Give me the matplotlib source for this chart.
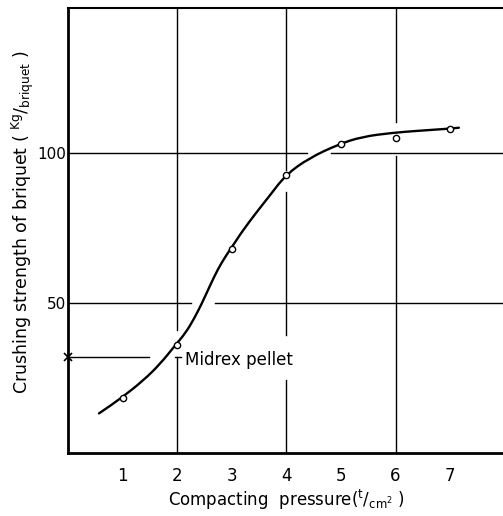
import matplotlib
matplotlib.use('Agg')
import matplotlib.pyplot as plt
from matplotlib.path import Path
from matplotlib.patches import PathPatch

# measured points (compacting pressure t/cm2, crushing strength kg/briquet)
pressure = [1, 2, 3, 4, 5, 6, 7]
strength = [18.3, 36.1, 68.1, 92.8, 103.0, 105.2, 108.1]

# hand drawn curve
curve_x = [0.57, 0.97, 1.39, 1.70, 1.97, 2.15, 2.30, 2.45, 2.60, 2.75, 2.90,
           3.05, 3.19, 3.44, 3.68, 3.99, 4.41, 4.96, 5.39, 5.94, 6.43, 6.92, 7.16]
curve_y = [13.3, 18.3, 24.4, 30.0, 36.1, 40.0, 44.5, 49.8, 55.8, 61.5, 66.0,
           70.0, 73.9, 80.0, 85.5, 92.8, 98.3, 103.0, 105.5, 106.8, 107.5, 108.1, 108.5]

midrex = 32
x_ticks = [1, 2, 3, 4, 5, 6, 7]
y_ticks = [50, 100]

# grid lines are broken where the drawing leaves gaps
h_grid = {100: [(0, 4.38), (4.81, 8)], 50: [(0, 2.25), (2.70, 8)]}
v_grid = {2: [(0, 32.2), (41.1, 148.4)],
          4: [(0, 24.4), (39.4, 87.2), (94.5, 148.4)],
          6: [(0, 99.0), (110.4, 148.4)]}


def smooth_path(xs, ys):
    '''quadratic bezier through the midpoints of the traced points'''
    pts = list(zip(xs, ys))
    verts = [pts[0]]
    codes = [Path.MOVETO]
    mids = [((pts[i][0] + pts[i + 1][0]) / 2, (pts[i][1] + pts[i + 1][1]) / 2)
            for i in range(len(pts) - 1)]
    verts.append(mids[0])
    codes.append(Path.LINETO)
    for i in range(1, len(pts) - 1):
        verts += [pts[i], mids[i]]
        codes += [Path.CURVE3, Path.CURVE3]
    verts.append(pts[-1])
    codes.append(Path.LINETO)
    return Path(verts, codes)


fig = plt.figure(figsize=(5.03, 5.16), dpi=100)
ax = fig.add_axes([0.135, 0.1215, 0.8684, 0.863])

for yv, segs in h_grid.items():
    for a, b in segs:
        ax.plot([a, b], [yv, yv], color='black', lw=1.0)
for xv, segs in v_grid.items():
    for a, b in segs:
        ax.plot([xv, xv], [a, b], color='black', lw=1.0)

# Midrex pellet reference
ax.plot([0, 1.48], [midrex, midrex], color='black', lw=1.0)
ax.plot([1.97, 2.07], [midrex, midrex], color='black', lw=1.0)
ax.plot([0], [midrex], marker='x', color='black', ms=6, mew=1.2, clip_on=False)
ax.text(2.15, midrex - 0.8, 'Midrex pellet', fontsize=12, va='center', ha='left')

ax.add_patch(PathPatch(smooth_path(curve_x, curve_y), fill=False,
                       edgecolor='black', lw=1.7, capstyle='round'))
ax.plot(pressure, strength, 'o', ms=4.5, mfc='white', mec='black', mew=1.0)

ax.set_xlim(0, 8)
ax.set_ylim(0, 148.4)
ax.set_xticks(x_ticks)
ax.set_yticks(y_ticks)
ax.tick_params(length=0, labelsize=12, pad=10)
ax.tick_params(axis='y', pad=1, labelsize=11)

ax.spines['right'].set_visible(False)
ax.spines['left'].set_linewidth(2)
ax.spines['bottom'].set_linewidth(2)
ax.spines['top'].set_linewidth(1.5)

ax.set_xlabel(r'Compacting  pressure($\mathregular{^{t}/_{cm^2}}$ )', fontsize=12, labelpad=2)
ax.set_ylabel(r'Crushing strength of briquet ( $\mathregular{^{Kg}/_{briquet}}$ )',
              fontsize=12.5)
ax.yaxis.label.set_verticalalignment('baseline')
ax.yaxis.set_label_coords(-0.092, 0.52)

fig.savefig('out.png', dpi=100)
